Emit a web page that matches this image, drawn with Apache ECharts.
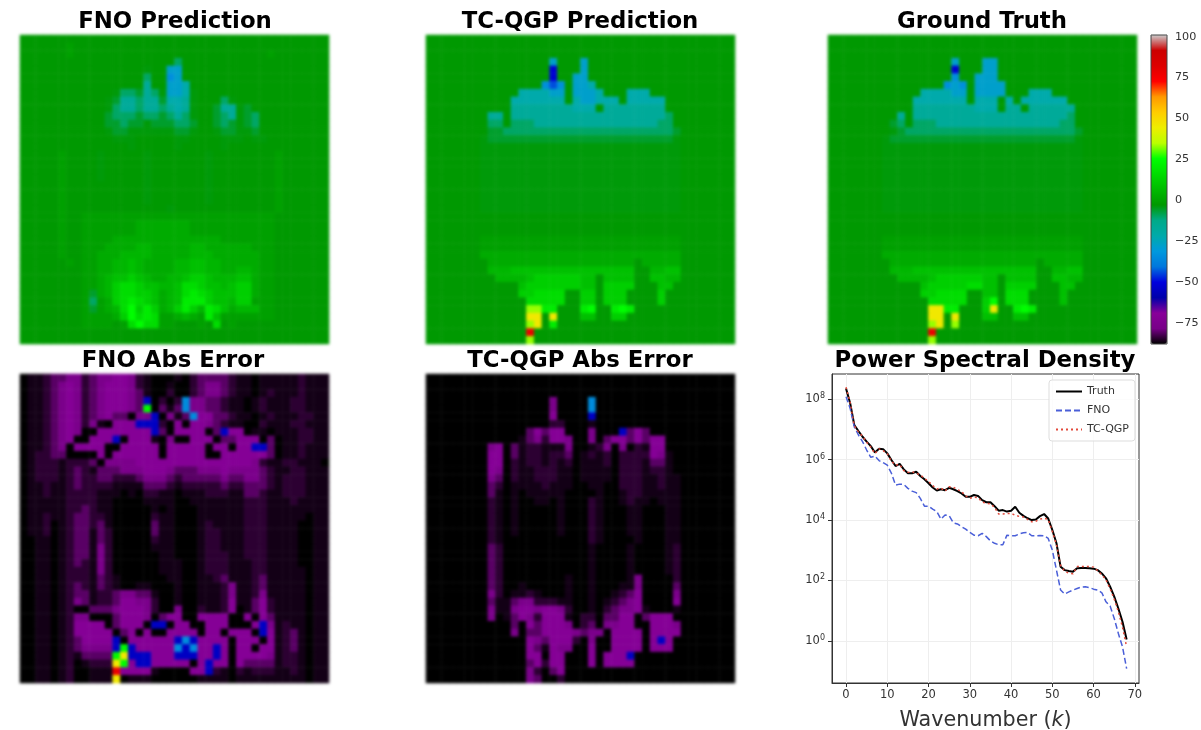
<!DOCTYPE html>
<html><head><meta charset="utf-8">
<style>
html,body{margin:0;padding:0;background:#fff;width:1201px;height:730px;overflow:hidden}
#heat,#main{position:absolute;left:0;top:0;width:1201px;height:730px}
#heat{filter:blur(1.7px)}
#main{filter:blur(0.35px)}
</style>
<script src="https://cdn.jsdelivr.net/npm/echarts@6/dist/echarts.min.js"></script>
</head><body>
<div id="heat"></div><div id="main"></div>
<script>
// ---- value levels used by the character grids below (field value per character)
const fieldLevels = {a:-52,b:-44,c:-34,d:-28,e:-22,f:-17,g:-10,h:-6,i:-3.6,'.':-3,1:-1,2:2,3:5,4:8,5:12,6:16,7:20,8:25,9:33,y:46,o:62,r:78};
const errorLevels = {0:-88,1:-86.5,2:-84.5,3:-81,4:-77,5:-71,6:-67,b:-55,c:-35,g:24,y:46,r:78};

const fnoPrediction = [
"........................................",
"......1.................................",
"......1.........................1.......",
"....................g...................",
"................i..dd...................",
"................g..cd...................",
"................f..dde..................",
"............igghfgiddei.................",
"...........ihffgffheefi...gi............",
"...........igffgffgfefi..hffih..........",
"...........hggghgghgfgi..hgfihg.........",
"...........hhghhihhhggh..hghihg.........",
"...........ihhiiiiiihhi..ihhiih.........",
"............iii.....ii....iii.ii........",
"..............i.....i.....i.............",
".....1....i.....i.......i........1......",
".....1....i.....i.......i........1......",
".....1....i.....i.......i........1......",
".....1....i.....i.......i........1......",
".....1..........i.......i........1......",
".....1..........i.......i........1......",
".....1..........i.......i........1......",
".....1.............i.............1......",
".....1..1111111111111111111111111.......",
".....1..1111111222222211111111111.......",
".....1..1111111222222211111111111.......",
".....1..1111222222222222221111111.......",
".....1..1112222332222233222222111.......",
".....1..1122233332222233322222211.......",
"......1.1122334322223344332222211.......",
"........1122334322223344332233211.......",
"........1123445432233455433344211.......",
"........1123566544334665443455211.......",
"........1h23566554234676544455211.......",
"........1g12567654234777544355111.......",
"........1h12368575235753764233311.......",
"........1111258676112321741111111.......",
"........1111.1686611...1.6.1............",
"........................................",
"........................................"];

const tcPrediction = [
"........................................",
"........................................",
"........................................",
"................d...d...................",
"................a...d...................",
"................a..dd...................",
"...............cbc.dde..................",
"............eeeedd.ddde...eee...........",
"...........eeeeeee.eddeee.eeeee.........",
"...........ffffffffeee.ffffffff.........",
"........ff.ffffffffffffffffffffg........",
"........gg.gggffffffffffffffffgg........",
"........hhggggggggggggggggggggggh.......",
".......ihhhhhhhhhhhhhhhhhhhhhhhhi.......",
".......iiiiiiiiiiiiiiiiiiiiiiiiii.......",
".......iiiiiiiiiiiiiiiiiiiiiiiiii.......",
".......iiiiiiiiiiiiiiiiiiiiiiiiii.......",
".......iiiiiiiiiiiiiiiiiiiiiiiiii.......",
".......iiiiiiiiiiiiiiiiiiiiiiiiii.......",
".......iiiiiiiiiiiiiiiiiiiiiiiiii.......",
".......iiiiiiiiiiiiiiiiiiiiiiiiii.......",
".......iiiiiiiiiiiiiiiiiiiiiiiiii.......",
".......iiiiiiiiiiiiiiiiiiiiiiiiii.......",
"........................................",
"........................................",
"........................................",
".......11111111111111111111111111.......",
".......11111111111111111111111111.......",
".......22222222222222222222222222.......",
"........2222222222222222222.22222.......",
"........3334444444444444444..3344.......",
".........3333455555544.4444..4433.......",
"............4555555544.5555...44........",
"............556666..55.555....5.........",
".............66666..55.555....5.........",
".............9977...78..787.............",
".............yy.y...44..55..............",
".............9y.7.......................",
".............r..........................",
".............9.........................."];

const groundTruth = [
"........................................",
"........................................",
"........................................",
"................d...dd..................",
"................a...dd..................",
"................c..ddd..................",
"...............cdc.dddd.................",
"............eeeedd.dddd...eee...........",
"...........eeeeeee.eee.e.eeeeee.........",
"...........ffffffffeee.ff.ffffff........",
".........f.ffffffffffffffffffffg........",
"........hg.gggffffffffffffffffgg........",
"........ihggggggggggggggggggggggh.......",
".......ihhhhhhhhhhhhhhhhhhhhhhhhi.......",
".......iiiiiiiiiiiiiiiiiiiiiiiiii.......",
".......iiiiiiiiiiiiiiiiiiiiiiiiii.......",
".......iiiiiiiiiiiiiiiiiiiiiiiiii.......",
".......iiiiiiiiiiiiiiiiiiiiiiiiii.......",
".......iiiiiiiiiiiiiiiiiiiiiiiiii.......",
".......iiiiiiiiiiiiiiiiiiiiiiiiii.......",
".......iiiiiiiiiiiiiiiiiiiiiiiiii.......",
".......iiiiiiiiiiiiiiiiiiiiiiiiii.......",
".......iiiiiiiiiiiiiiiiiiiiiiiiii.......",
"........................................",
"........................................",
"........................................",
".......11111111111111111111111111.......",
".......11111111111111111111111111.......",
".......22222222222222222222222222.......",
"........2222222222222222222.22222.......",
"........3334444444444444444..3344.......",
".........3333455555544.4444..4433.......",
"............4555556644.5555...44........",
"............556666..44.666....4.........",
".............66666..58.666....4.........",
".............yy77...5y..787.............",
".............yy.y...44..44..............",
".............9y.9.......................",
".............r..........................",
".............9.........................."];

const fnoError = [
"01123 34423 44554 21000 10233 33211 01111 12111",
"01123 45423 45554 21001 00234 43211 01111 12111",
"01123 45423 45554 31002 00234 43211 01211 12111",
"01123 45423 45554 3b020 2c443 32110 12111 22111",
"01123 45423 45554 3g031 3c443 32110 12111 22111",
"01123 45423 45330 44b04 13c55 33211 01211 12211",
"01123 45424 10555 bbb20 50554 32110 02111 22111",
"01123 45400 55555 55b30 55550 3b550 11011 12211",
"01123 45005 55b05 55104 00555 03355 50301 12211",
"01123 40555 50055 55505 55550 55055 bb301 12111",
"01223 30000 50555 55505 55550 05555 55301 12111",
"01222 12223 04444 55555 55555 55555 42112 2111",
"0122 212 3 2 1 33344 45554 33344 4544 44 3 2 1122111",
"0122 212 3 2 2 33222 34443 23333 3433 44 3 2 1222111",
"0112 112 3 2 2 22111 13332 12222 2322 33 3 2 1222111",
"0112 112 2 2 2 11101 02211 01112 2211 33 2 1 1222111",
"0111 112 2 2 2 11000 01111 00111 1111 22 2 1 1121111",
"0111 112 2 3 2 11000 00101 00011 1111 22 2 1 1111111",
"0112 112 3 3 2 21000 00211 00011 1111 22 2 1 1111011",
"0112 012 3 3 2 31000 00311 00012 1111 22 2 1 1110011",
"0112 012 3 3 1 32000 00311 00012 2111 22 2 1 1110011",
"0011 012 3 3 1 32000 00211 00012 2111 22 2 1 1110011",
"0011 012 3 3 1 42000 00111 00012 2111 22 2 1 1110011",
"0011 012 3 3 1 42000 00011 00012 2211 22 2 1 1110011",
"0011 012 3 2 1 42000 00011 10012 2211 12 2 1 1110011",
"0011 012 2 2 1 42000 00011 10012 2211 12 2 1 1111011",
"0011 012 2 2 1 32100 00001 10011 2311 12 3 1 1111011",
"0011 012 3 2 1 32100 11000 10011 1241 12 3 1 1111011",
"0011 012 3 3 1 22344 33100 10011 1241 12 4 1 1111011",
"0011 012 4 3 1 22355 44200 10011 1251 13 5 2 1111011",
"0011 012 0 0 3 33455 54200 40021 1250 13 5 2 1111011",
"0011 012 4 4 0 00355 54035 50055 5500 50 5 3 1111011",
"0011 012 5 5 5 50355 50bb0 55005 5500 05 b 4 1211011",
"0011 012 5 5 5 55035 05005 55505 5055 50 b 5 1231011",
"0011 012 3 5 5 55b05 55555 bcb55 5505 55 0 5 1231011",
"0011 012 3 4 4 44bgb 55555 cbc55 b505 50 5 5 1231011",
"0011 012 1 3 3 33gyb bb555 bbb55 b505 55 5 4 1221011",
"0011 012 0 1 2 22yg5 bb555 5505b 5505 33 3 3 1221011",
"0011 012 0 0 1 11r55 55100 0055b 2102 12 2 2 1121011",
"0011 012 0 0 1 11y01 11000 00011 1101 11 1 1 1111011"];

const tcError = [
"00000 00000 00000 00000 00000 00000 00000 00000",
"00000 00000 00000 00000 00000 00000 00000 00000",
"00000 00000 00000 00000 00000 00000 00000 00000",
"00000 00000 00000 04000 0c000 00000 00000 00000",
"00000 00000 00000 04000 0c000 00000 00000 00000",
"00000 00000 00000 05000 0b000 00000 00000 00000",
"00000 00000 00000 02200 01000 00000 00000 00000",
"00000 00000 00035 35500 04000 b3530 00000 00000",
"00000 00000 00134 25540 04035 53535 50000 00000",
"00000 00045 03122 11140 01240 40215 50000 00000",
"00000 00055 03122 12230 12120 22225 41000 00000",
"00000 00055 02122 12120 11120 22213 31000 00000",
"00000 00054 02112 22110 11110 22212 21000 00000",
"00000 00043 02112 22110 11110 22211 21100 00000",
"00000 00032 01111 21110 01100 22211 21100 00000",
"00000 00031 01011 11100 00100 12211 11100 00000",
"00000 00021 01001 10100 02100 12110 11100 00000",
"00000 00021 01000 00100 02100 01100 01100 00000",
"00000 00021 01000 00100 02100 01100 01100 00000",
"00000 00021 01000 00100 02100 01100 01100 00000",
"00000 00021 01000 00100 02100 01100 01100 00000",
"00000 00021 00000 00000 02100 00100 01100 00000",
"00000 00032 00000 00000 01000 01000 01200 00000",
"00000 00032 00000 00000 01000 01000 01200 00000",
"00000 00032 00000 00000 01000 01000 01200 00000",
"00000 00032 00000 00000 01000 01000 01200 00000",
"00000 00032 00000 00010 01000 01400 00200 00000",
"00000 00032 00100 00010 01000 11400 00300 00000",
"00000 00042 01121 00010 01001 23500 00400 00000",
"00000 00031 13442 22110 01012 34500 00500 00000",
"00000 00041 14554 55420 01023 44510 00100 00000",
"00000 00040 13542 55510 22033 55035 55000 00000",
"00000 00000 03053 55540 23044 55005 55400 00000",
"00000 00000 04033 55554 34405 55505 55500 00000",
"00000 00000 00054 35552 04005 55505 b5000 00000",
"00000 00000 00053 15440 05005 55505 55000 00000",
"00000 00000 00055 05500 05055 5b000 00000 00000",
"00000 00000 00035 25500 05055 55000 00000 00000",
"00000 00000 00042 03500 00000 00000 00000 00000",
"00000 00000 00043 00200 00000 00000 00000 00000"];

// ---- spectrum: log10 of the power at wavenumber k = 0..68
const truthLog10 = [8.36,7.87,7.15,6.95,6.76,6.6,6.45,6.24,6.36,6.35,6.21,5.99,5.79,5.86,5.68,5.55,5.55,5.6,5.46,5.35,5.22,5.08,4.98,5.02,4.99,5.07,5.02,4.96,4.88,4.77,4.77,4.83,4.8,4.66,4.59,4.59,4.46,4.31,4.33,4.28,4.31,4.44,4.24,4.14,4.06,4.0,4.02,4.13,4.2,4.05,3.67,3.23,2.45,2.34,2.31,2.29,2.4,2.41,2.41,2.4,2.39,2.34,2.23,2.07,1.79,1.46,1.07,0.63,0.04];
const fnoLog10 = [8.09,7.7,7.09,6.82,6.6,6.32,6.08,6.12,5.97,5.9,5.82,5.55,5.16,5.19,5.18,5.05,4.96,4.91,4.72,4.46,4.46,4.36,4.28,4.03,4.17,4.14,3.91,3.87,3.78,3.7,3.59,3.5,3.48,3.56,3.45,3.31,3.23,3.18,3.18,3.5,3.48,3.48,3.54,3.58,3.59,3.48,3.48,3.49,3.48,3.39,3.0,2.34,1.68,1.55,1.62,1.68,1.73,1.78,1.79,1.76,1.71,1.68,1.59,1.29,1.15,0.74,0.24,-0.2,-0.92];
const tcLog10 = [8.4,7.9,7.12,6.92,6.78,6.58,6.42,6.2,6.36,6.3,6.2,5.95,5.82,5.84,5.64,5.58,5.6,5.55,5.5,5.38,5.28,5.14,5.03,5.06,4.96,5.1,5.09,5.01,4.95,4.8,4.72,4.76,4.74,4.6,4.55,4.54,4.42,4.2,4.2,4.22,4.22,4.16,4.12,4.1,4.02,3.94,3.96,4.03,4.06,4.02,3.62,3.18,2.5,2.3,2.24,2.22,2.46,2.46,2.46,2.46,2.44,2.32,2.18,2.02,1.72,1.38,0.96,0.45,-0.2];

// ---- tick labels and text
const kTicks = [0,10,20,30,40,50,60,70];
const psdTicks = [1,1e2,1e4,1e6,1e8];
const colorbarTicks = [-75,-50,-25,0,25,50,75,100];
const panelTitles = ["FNO Prediction","TC-QGP Prediction","Ground Truth","FNO Abs Error","TC-QGP Abs Error","Power Spectral Density"];
const seriesNames = ["Truth","FNO","TC-QGP"];

const spectral = ['#000000','#780088','#880099','#0000aa','#0000dd','#0077dd','#0099dd','#00aaaa','#00aa88','#009900','#00bb00','#00dd00','#00ff00','#bbff00','#eeee00','#ffcc00','#ff9900','#ff0000','#dd0000','#cc0000','#cccccc'];
const vMin=-88, vMax=101, font='"DejaVu Sans"';

const panels = [
 {rows:fnoPrediction,levels:fieldLevels,left:20,top:35},
 {rows:tcPrediction,levels:fieldLevels,left:426,top:35},
 {rows:groundTruth,levels:fieldLevels,left:828,top:35},
 {rows:fnoError,levels:errorLevels,left:20,top:374},
 {rows:tcError,levels:errorLevels,left:426,top:374}
];
const cellKeys = Array.from({length:40},(_,i)=>i);
function decode(p){
  const out=[], pad=p.levels===errorLevels?'0':'.';
  p.rows.forEach((r,y)=>{
    const s=r.replace(/ /g,'').padEnd(40,pad).slice(0,40);
    for(let x=0;x<40;x++) out.push([x,y,p.levels[s[x]]]);
  });
  return out;
}
const heat = echarts.init(document.getElementById('heat'),null,{renderer:'canvas'});
heat.setOption({
  animation:false,
  grid:panels.map(p=>({left:p.left,top:p.top,width:309,height:309})),
  xAxis:panels.map((p,i)=>({type:'category',gridIndex:i,data:cellKeys,show:false})),
  yAxis:panels.map((p,i)=>({type:'category',gridIndex:i,data:cellKeys,inverse:true,show:false})),
  visualMap:{type:'continuous',show:false,min:vMin,max:vMax,inRange:{color:spectral}},
  series:panels.map((p,i)=>({type:'heatmap',xAxisIndex:i,yAxisIndex:i,data:decode(p),silent:true,progressive:0,itemStyle:{borderWidth:0}}))
});

const titleCenters = [[175,22],[580,22],[982,22],[173,361],[580,361],[985,361]];
const toPairs = a=>a.map((v,k)=>[k,Math.pow(10,v)]);
const main = echarts.init(document.getElementById('main'),null,{renderer:'canvas'});
main.setOption({
  animation:false,
  title:panelTitles.map((t,i)=>({text:t,left:titleCenters[i][0],top:titleCenters[i][1],textAlign:'center',textVerticalAlign:'middle',padding:0,
    textStyle:{fontFamily:font,fontWeight:'bold',fontSize:22.8,color:'#000'}})),
  grid:[
    {left:832,top:374,width:307,height:309,show:true,borderColor:'#333',borderWidth:1,backgroundColor:'transparent',outerBoundsMode:'none'},
    {left:1151,top:35,width:16,height:309,show:true,borderColor:'#444',borderWidth:1,backgroundColor:'transparent',z:6,outerBoundsMode:'none'}
  ],
  xAxis:[
    {type:'value',gridIndex:0,min:-3.4,max:71,
     name:'{a|Wavenumber (}{b|k}{a|)}',nameLocation:'middle',nameGap:27,
     nameTextStyle:{rich:{a:{fontFamily:font,fontSize:20.7,color:'#333'},b:{fontFamily:font,fontSize:20.7,fontStyle:'italic',color:'#333'}}},
     axisLine:{onZero:false,lineStyle:{color:'#333'}},
     axisTick:{show:true,customValues:kTicks,length:4,lineStyle:{color:'#333'}},
     axisLabel:{customValues:kTicks,fontFamily:font,fontSize:11.5,color:'#333',margin:6},
     splitLine:{show:true,lineStyle:{color:'#eeeeee',width:1}}},
    {type:'value',gridIndex:1,min:0,max:1,show:false}
  ],
  yAxis:[
    {type:'log',gridIndex:0,logBase:10,min:Math.pow(10,-1.4),max:Math.pow(10,8.84),
     axisLine:{onZero:false,lineStyle:{color:'#333'}},
     axisTick:{show:true,customValues:psdTicks,length:4,lineStyle:{color:'#333'}},
     axisLabel:{customValues:psdTicks,margin:7,
       formatter:v=>'{b|10}{s|'+Math.round(Math.log10(v))+'}',
       rich:{b:{fontFamily:font,fontSize:11.5,color:'#333'},s:{fontFamily:font,fontSize:8,color:'#333',verticalAlign:'top',padding:[0,0,6,0]}}},
     splitLine:{show:true,lineStyle:{color:'#eeeeee',width:1}},minorTick:{show:false},minorSplitLine:{show:false}},
    {type:'value',gridIndex:1,min:vMin,max:vMax,position:'right',
     axisLine:{show:false},
     axisTick:{show:true,customValues:colorbarTicks,length:4,lineStyle:{color:'#333'}},
     axisLabel:{customValues:colorbarTicks,fontFamily:font,fontSize:11.2,color:'#333',margin:8,formatter:v=>String(v).replace('-','\u2212')},
     splitLine:{show:false}}
  ],
  visualMap:{type:'continuous',seriesIndex:[],min:vMin,max:vMax,inRange:{color:spectral},left:1151,top:35,itemWidth:16,itemHeight:309,padding:0,
    calculable:false,realtime:false,hoverLink:false,text:null,showLabel:false,z:1,orient:'vertical'},
  legend:{orient:'vertical',left:1049,top:380,width:84,padding:[6,6,6,6],itemWidth:26,itemHeight:10,itemGap:8,
    backgroundColor:'rgba(255,255,255,0.8)',borderColor:'#ddd',borderWidth:1,borderRadius:3,
    itemStyle:{color:'rgba(0,0,0,0)',opacity:0,borderWidth:0},
    textStyle:{fontFamily:font,fontSize:11,color:'#333'},data:seriesNames},
  series:[
    {name:seriesNames[0],type:'line',xAxisIndex:0,yAxisIndex:0,data:toPairs(truthLog10),showSymbol:false,symbol:'none',lineStyle:{color:'#000',width:2},z:3},
    {name:seriesNames[1],type:'line',xAxisIndex:0,yAxisIndex:0,data:toPairs(fnoLog10),showSymbol:false,symbol:'none',lineStyle:{color:'#4a5fd8',width:1.5,type:[6,3]},itemStyle:{color:'#4a5fd8'},z:3},
    {name:seriesNames[2],type:'line',xAxisIndex:0,yAxisIndex:0,data:toPairs(tcLog10),showSymbol:false,symbol:'none',lineStyle:{color:'#e2483a',width:1.5,type:[2,3]},itemStyle:{color:'#e2483a'},z:4}
  ]
});
</script>
</body></html>
